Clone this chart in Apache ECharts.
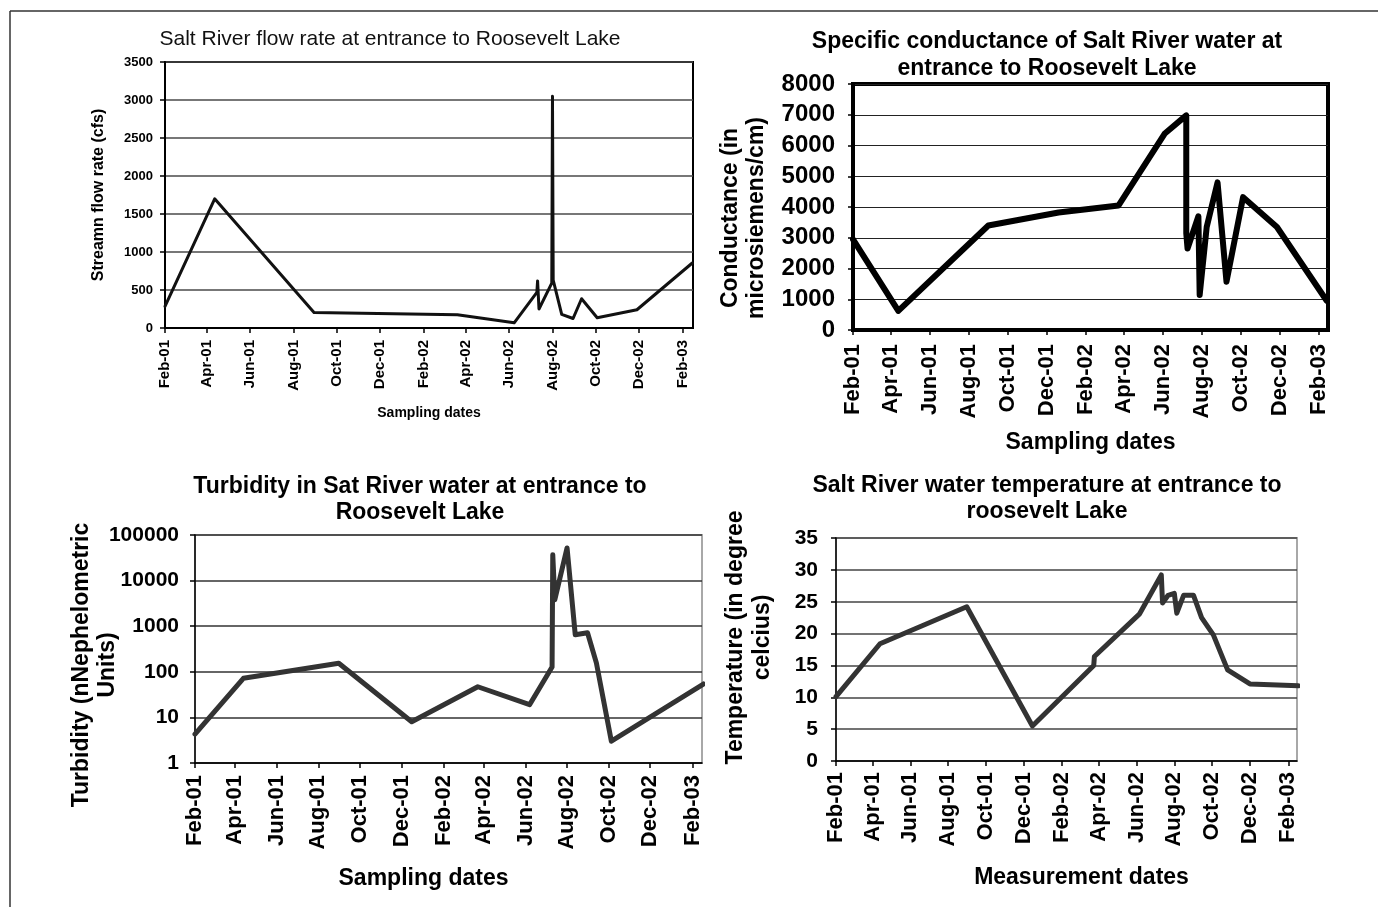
<!DOCTYPE html>
<html><head><meta charset="utf-8">
<script src="https://cdn.jsdelivr.net/npm/echarts@6/dist/echarts.min.js"></script>
<style>html,body{margin:0;padding:0;background:#fff}#c{width:1378px;height:907px}</style>
</head><body><div id="c"></div>
<script>
// ---- tick labels (shared by all four charts) ----
const tickLabels = ['Feb-01','Apr-01','Jun-01','Aug-01','Oct-01','Dec-01','Feb-02','Apr-02','Jun-02','Aug-02','Oct-02','Dec-02','Feb-03'];

// ---- Flow rate (cfs) ----
const flowDates  = ['2001-02-01','2001-04-12','2001-08-30','2002-03-20','2002-06-08','2002-07-10','2002-07-11','2002-07-13','2002-07-31','2002-08-01','2002-08-02','2002-08-14','2002-08-30','2002-09-11','2002-10-03','2002-11-28','2003-02-14'];
const flowValues = [285,1700,205,175,68,470,620,250,590,3050,630,180,125,385,135,240,855];

// ---- Specific conductance (microsiemens/cm) ----
const condDates  = ['2001-02-01','2001-04-13','2001-09-01','2001-12-20','2002-03-24','2002-06-04','2002-07-08','2002-07-08','2002-07-10','2002-07-27','2002-07-29','2002-08-09','2002-08-26','2002-09-09','2002-10-05','2002-11-27','2003-02-13'];
const condValues = [2950,620,3400,3820,4050,6380,6980,3150,2650,3700,1140,3350,4800,1570,4320,3350,950];

// ---- Turbidity (NTU, log) ----
const turbDates  = ['2001-02-01','2001-04-13','2001-08-31','2001-12-16','2002-03-23','2002-06-07','2002-07-10','2002-07-11','2002-07-14','2002-08-01','2002-08-13','2002-08-31','2002-09-13','2002-10-05','2003-02-17'];
const turbValues = [4.3,72,154,8,47,19,127,37000,3800,52000,650,720,157,3.0,54];

// ---- Water temperature (deg C) ----
const tempDates  = ['2001-02-01','2001-04-13','2001-08-31','2001-12-15','2002-03-24','2002-03-25','2002-06-06','2002-07-11','2002-07-13','2002-07-22','2002-08-01','2002-08-05','2002-08-16','2002-09-01','2002-09-14','2002-10-03','2002-10-26','2002-12-01','2003-02-17'];
const tempValues = [10.1,18.4,24.2,5.5,15.0,16.4,23.1,29.2,24.8,26.0,26.3,23.2,26.0,26.0,22.5,19.8,14.3,12.1,11.8];

// ---- helpers ----
const MN = ['Jan','Feb','Mar','Apr','May','Jun','Jul','Aug','Sep','Oct','Nov','Dec'];
function tickTime(l){const p=l.split('-');return Date.UTC(2000+Number(p[1]),MN.indexOf(p[0]),1);}
function parseD(s){const p=s.split('-').map(Number);return Date.UTC(p[0],p[1]-1,p[2]);}
function fmt(v){const d=new Date(v);return MN[d.getUTCMonth()]+'-'+String(d.getUTCFullYear()%100).padStart(2,'0');}
function zip(ds,vs){return ds.map((d,i)=>[parseD(d),vs[i]]);}
const ticks = tickLabels.map(tickTime);
const XMIN = tickTime('Feb-01');
const XMAX = Date.UTC(2003,1,15);

const F = "'Liberation Sans', Arial, sans-serif";

function xAx(gi,o){
  return {
    type:'value', gridIndex:gi, min:XMIN, max:XMAX, scale:true,
    name:o.name, nameLocation:'middle', nameGap:o.nameGap, nameMoveOverlap:false,
    nameTextStyle:{fontFamily:F, fontSize:o.nfs, fontWeight:'bold', color:'#000', padding:o.npad||0},
    axisLine:{show:true,onZero:false,lineStyle:{color:'#000',width:o.aw||1.5}},
    axisTick:{show:true,customValues:ticks,length:5,lineStyle:{color:'#000',width:1.5}},
    axisLabel:{customValues:ticks,rotate:90,formatter:fmt,fontFamily:F,fontSize:o.lfs,fontWeight:'bold',color:'#000',margin:o.margin,showMinLabel:true,showMaxLabel:true},
    splitLine:{show:false}, minorTick:{show:false}
  };
}
function yAx(gi,o){
  const a = {
    type:o.type||'value', gridIndex:gi, min:o.min, max:o.max,
    name:o.name, nameLocation:'middle', nameGap:o.nameGap, nameRotate:90, nameMoveOverlap:false,
    nameTextStyle:{fontFamily:F, fontSize:o.nfs, fontWeight:'bold', color:'#000', lineHeight:o.nlh, padding:o.npad||0},
    axisLine:{show:true,lineStyle:{color:'#000',width:o.aw||1.5}},
    axisTick:{show:true,length:5,lineStyle:{color:'#000',width:1.5}},
    axisLabel:{formatter:v=>String(v),fontFamily:F,fontSize:o.lfs,fontWeight:'bold',color:'#000',margin:o.margin},
    splitLine:{show:true,lineStyle:{color:o.gc,width:o.gw}}
  };
  if(o.interval) a.interval=o.interval;
  if(o.type==='log') a.logBase=10;
  return a;
}
function ser(i,data,color,w){
  return {type:'line',xAxisIndex:i,yAxisIndex:i,data:data,showSymbol:false,symbol:'none',animation:false,
    lineStyle:{color:color,width:w,join:'round',cap:'round'},itemStyle:{color:color},emphasis:{disabled:true}};
}

const chart = echarts.init(document.getElementById('c'),null,{renderer:'canvas'});
chart.setOption({
  backgroundColor:'#fff',
  animation:false,
  title:[
    {text:'Salt River flow rate at entrance to Roosevelt Lake',left:385,top:24,textAlign:'center',
     textStyle:{fontFamily:F,fontSize:21,fontWeight:'normal',color:'#111'}},
    {text:'Specific conductance of Salt River water at\nentrance to Roosevelt Lake',left:1042,top:23,textAlign:'center',
     textStyle:{fontFamily:F,fontSize:23,fontWeight:'bold',color:'#000',lineHeight:27}},
    {text:'Turbidity in Sat River water at entrance to\nRoosevelt Lake',left:415,top:469,textAlign:'center',
     textStyle:{fontFamily:F,fontSize:23,fontWeight:'bold',color:'#000',lineHeight:26}},
    {text:'Salt River water temperature at entrance to\nroosevelt Lake',left:1042,top:468,textAlign:'center',
     textStyle:{fontFamily:F,fontSize:23,fontWeight:'bold',color:'#000',lineHeight:26}}
  ],
  grid:[
    {left:165,top:62,width:528,height:266,show:true,borderColor:'#000',borderWidth:2,backgroundColor:'transparent',outerBoundsMode:'none'},
    {left:853,top:84,width:475,height:246,show:true,borderColor:'#000',borderWidth:4,backgroundColor:'transparent',outerBoundsMode:'none'},
    {left:195,top:535,width:507,height:228,show:true,borderColor:'#a8a8a8',borderWidth:2,backgroundColor:'transparent',outerBoundsMode:'none'},
    {left:836,top:538,width:461,height:223,show:true,borderColor:'#a8a8a8',borderWidth:2,backgroundColor:'transparent',outerBoundsMode:'none'}
  ],
  xAxis:[
    xAx(0,{name:'Sampling dates',nameGap:78,nfs:14,lfs:15,margin:12,aw:2}),
    xAx(1,{name:'Sampling dates',nameGap:101,nfs:23,lfs:22,margin:14,aw:3}),
    xAx(2,{name:'Sampling dates',nameGap:104,nfs:23,lfs:22,margin:12,npad:[0,50,0,0]}),
    xAx(3,{name:'Measurement dates',nameGap:105,nfs:23,lfs:22,margin:11,npad:[0,0,0,30]})
  ],
  yAxis:[
    yAx(0,{name:'Streamn flow rate (cfs)',min:0,max:3500,interval:500,nameGap:57,nfs:16,nlh:18,lfs:13,margin:12,gc:'#4a4a4a',gw:1.5,aw:2}),
    yAx(1,{name:'Conductance (in\nmicrosiemens/cm)',min:0,max:8000,interval:1000,nameGap:83,nfs:23,nlh:26,lfs:24,margin:18,gc:'#222',gw:1.2,aw:3,npad:[0,22,0,0]}),
    yAx(2,{type:'log',name:'Turbidity (nNephelometric\nUnits)',min:1,max:100000,nameGap:74,nfs:23,nlh:26,lfs:21,margin:16,gc:'#333',gw:1.5,npad:[0,32,0,0]}),
    yAx(3,{name:'Temperature (in degree\ncelcius)',min:0,max:35,interval:5,nameGap:60,nfs:23,nlh:27,lfs:21,margin:18,gc:'#444',gw:1.5,npad:[0,0,0,24]})
  ],
  series:[
    ser(0,zip(flowDates,flowValues),'#111',3),
    ser(1,zip(condDates,condValues),'#000',6),
    ser(2,zip(turbDates,turbValues),'#333',5),
    ser(3,zip(tempDates,tempValues),'#333',5)
  ],
  graphic:[
    {type:'line',silent:true,shape:{x1:10,y1:11,x2:1378,y2:11},style:{stroke:'#333',lineWidth:1.5}},
    {type:'line',silent:true,shape:{x1:10,y1:11,x2:10,y2:907},style:{stroke:'#333',lineWidth:1.5}}
  ]
});
</script></body></html>
